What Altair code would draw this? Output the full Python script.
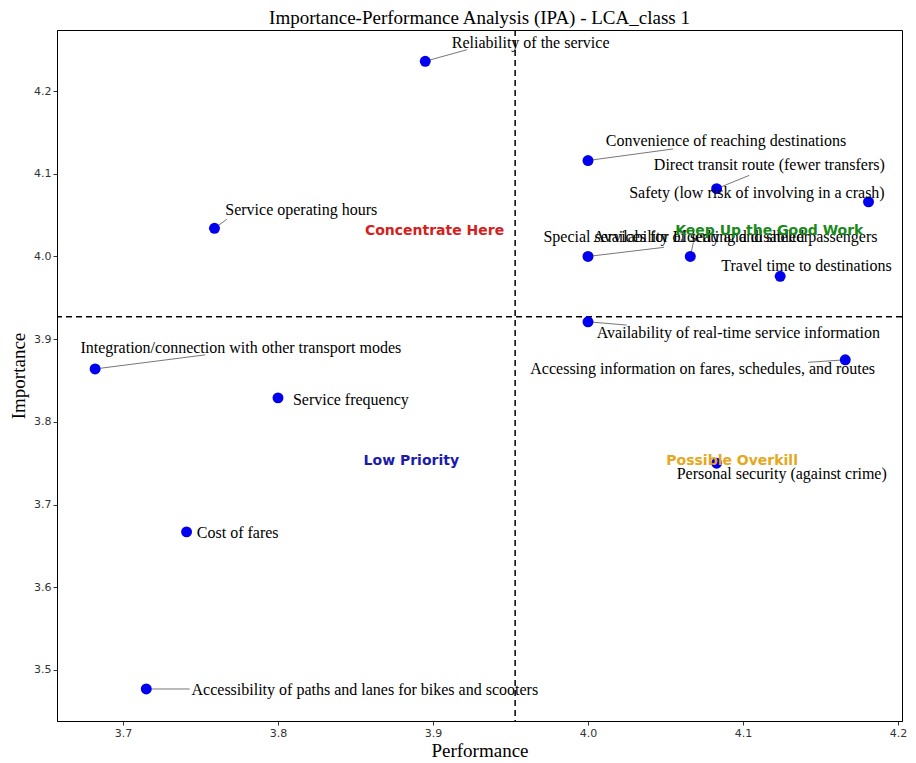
import altair as alt
import pandas as pd

names = [
    "Reliability of the service",
    "Convenience of reaching destinations",
    "Direct transit route (fewer transfers)",
    "Safety (low risk of involving in a crash)",
    "Special services for Elderly and disabled passengers",
    "Availability of seating and shelter",
    "Travel time to destinations",
    "Service operating hours",
    "Availability of real-time service information",
    "Accessing information on fares, schedules, and routes",
    "Integration/connection with other transport modes",
    "Service frequency",
    "Personal security (against crime)",
    "Cost of fares",
    "Accessibility of paths and lanes for bikes and scooters",
]
performance = [3.895, 4.000, 4.083, 4.181, 4.000, 4.066, 4.124, 3.759, 4.000, 4.166, 3.682, 3.800, 4.083, 3.741, 3.715]
importance = [4.236, 4.116, 4.082, 4.066, 4.000, 4.000, 3.976, 4.034, 3.921, 3.875, 3.864, 3.829, 3.750, 3.667, 3.477]

# annotation (label) positions in data units
label_x = [3.963, 4.089, 4.117, 4.109, 4.079, 4.073, 4.141, 3.815, 4.097, 4.074, 3.776, 3.847, 4.125, 3.774, 3.856]
label_y = [4.258, 4.140, 4.110, 4.077, 4.023, 4.023, 3.989, 4.056, 3.908, 3.864, 3.889, 3.826, 3.737, 3.666, 3.476]
# leader line end points in data units
lead_x = [3.922, 4.055, 4.104, 4.181, 4.049, 4.068, 4.124, 3.767, 4.025, 4.142, 3.753, 3.800, 4.083, 3.741, 3.743]
lead_y = [4.250, 4.130, 4.098, 4.066, 4.011, 4.017, 3.976, 4.045, 3.917, 3.872, 3.881, 3.829, 3.750, 3.667, 3.477]

mean_perf = 3.953
mean_imp = 3.927

quad_names = ["Concentrate Here", "Keep Up the Good Work", "Low Priority", "Possible Overkill"]
quad_x = [3.901, 4.117, 3.886, 4.093]
quad_y = [4.031, 4.031, 3.753, 3.753]
quad_colors = ["#d42020", "#1a8a1a", "#1c1ca8", "#e5a820"]

x_ticks = [3.7, 3.8, 3.9, 4.0, 4.1, 4.2]
y_ticks = [3.5, 3.6, 3.7, 3.8, 3.9, 4.0, 4.1, 4.2]

df = pd.DataFrame({
    "name": names, "perf": performance, "imp": importance,
    "lx": label_x, "ly": label_y, "ex": lead_x, "ey": lead_y,
})
qdf = pd.DataFrame({"q": quad_names, "x": quad_x, "y": quad_y, "c": quad_colors})

xs = alt.Scale(domain=[3.6574, 4.2026], nice=False, zero=False)
ys = alt.Scale(domain=[3.4383, 4.2738], nice=False, zero=False)

xaxis = alt.Axis(values=x_ticks, format=".1f", grid=False, labelFont="DejaVu Sans",
                 labelFontSize=11, labelColor="#333333", tickColor="#333333", tickSize=4,
                 domainColor="black", title="Performance", titleFont="Liberation Serif",
                 titleFontSize=19, titleFontWeight="normal", titleColor="black", titlePadding=3)
yaxis = alt.Axis(values=y_ticks, format=".1f", grid=False, labelFont="DejaVu Sans",
                 labelFontSize=11, labelColor="#333333", tickColor="#333333", tickSize=4,
                 domainColor="black", title="Importance", titleFont="Liberation Serif",
                 titleFontSize=19, titleFontWeight="normal", titleColor="black", titlePadding=5)

base = alt.Chart(df)

leaders = base.mark_rule(color="#777777", strokeWidth=1).encode(
    x=alt.X("perf:Q", scale=xs, axis=xaxis), y=alt.Y("imp:Q", scale=ys, axis=yaxis),
    x2="ex:Q", y2="ey:Q")

vline = alt.Chart(pd.DataFrame({"x": [mean_perf]})).mark_rule(
    color="black", strokeDash=[6, 4], strokeWidth=1.5).encode(x=alt.X("x:Q", scale=xs))
hline = alt.Chart(pd.DataFrame({"y": [mean_imp]})).mark_rule(
    color="black", strokeDash=[6, 4], strokeWidth=1.5).encode(y=alt.Y("y:Q", scale=ys))

points = base.mark_circle(size=120, color="#0000ee", opacity=1).encode(
    x=alt.X("perf:Q", scale=xs), y=alt.Y("imp:Q", scale=ys))

labels = base.mark_text(font="Liberation Serif", fontSize=16, color="black",
                        align="center", baseline="middle").encode(
    x=alt.X("lx:Q", scale=xs), y=alt.Y("ly:Q", scale=ys), text="name:N")

quads = alt.Chart(qdf).mark_text(font="DejaVu Sans", fontSize=14, fontWeight="bold",
                                 align="center", baseline="middle").encode(
    x=alt.X("x:Q", scale=xs), y=alt.Y("y:Q", scale=ys), text="q:N",
    color=alt.Color("c:N", scale=None))

chart = alt.layer(leaders, vline, hline, points, labels, quads).properties(
    width=845, height=691,
    title=alt.TitleParams("Importance-Performance Analysis (IPA) - LCA_class 1",
                          font="Liberation Serif", fontSize=19, fontWeight="normal",
                          color="black", anchor="middle", offset=1),
    autosize=alt.AutoSizeParams(type="none"),
    padding={"left": 49, "top": 22, "right": 6, "bottom": 42},
).configure_view(stroke="black", strokeWidth=1)

chart.save("out.html", embed_options={"renderer": "svg", "actions": False})
